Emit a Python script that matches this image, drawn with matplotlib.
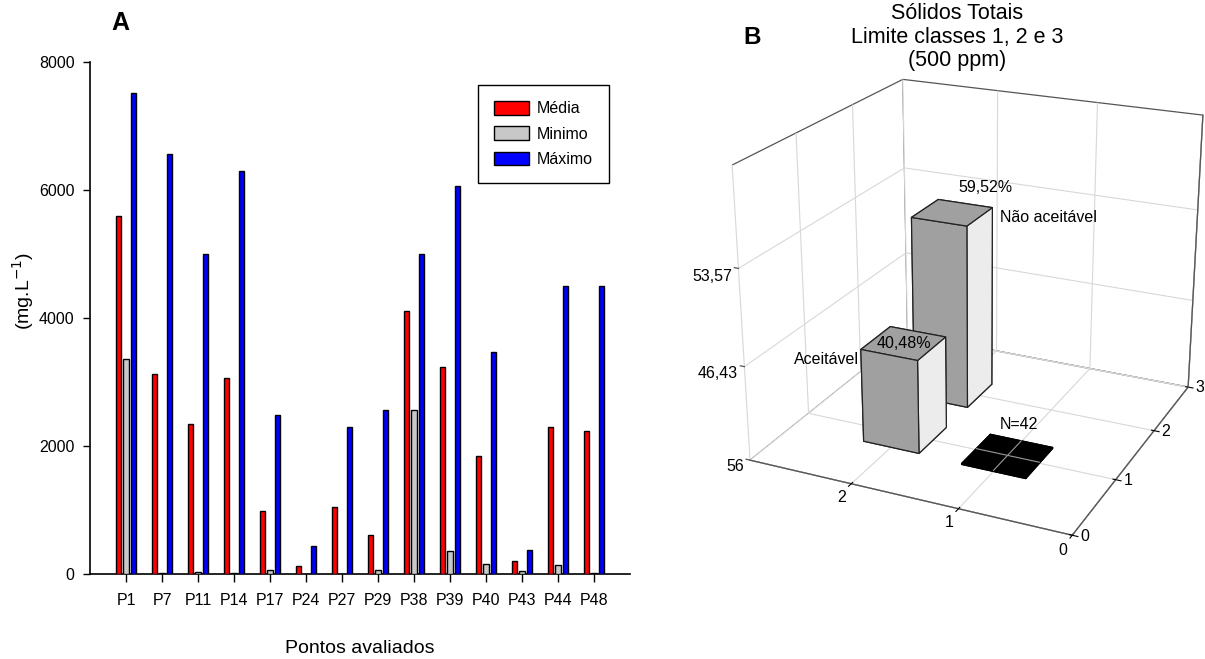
import matplotlib
matplotlib.use("Agg")
import matplotlib.pyplot as plt
import numpy as np

# ---------------- data ----------------
pontos = ["P1", "P7", "P11", "P14", "P17", "P24", "P27", "P29", "P38", "P39",
          "P40", "P43", "P44", "P48"]
media = [5600, 3120, 2350, 3070, 980, 130, 1050, 615, 4110, 3230, 1850, 205, 2300, 2235]
minimo = [3355, 15, 25, 15, 55, 0, 0, 55, 2555, 355, 150, 40, 140, 15]
maximo = [7520, 6570, 5000, 6290, 2490, 440, 2290, 2555, 5005, 6070, 3465, 380, 4505, 4505]
serie_nomes = ["Média", "Minimo", "Máximo"]
serie_cores = ["#ff0000", "#c8c8c8", "#0000ff"]
yticks_a = [0, 2000, 4000, 6000, 8000]

classes = ["Aceitável", "Não aceitável"]
classes_pct = [40.48, 59.52]
classes_x = [2, 2]
classes_y = [1, 2]
pct_labels = ["40,48%", "59,52%"]
n_label = "N=42"
n_x, n_y = 1, 1
z_ticks = [21.44, 40.48, 59.52]
z_ticklabels = ["56", "46,43", "53,57"]
x_ticks_b = [0, 1, 2]
y_ticks_b = [0, 1, 2, 3]
x_max_b = 3  # x axis of panel B runs from 3 (left) to 0 (right)

W, H = 1205, 659
fig = plt.figure(figsize=(W / 100, H / 100), dpi=100)

regular = ["Liberation Sans", "DejaVu Sans"]

# ---------------- panel A ----------------
ax = fig.add_axes([90 / W, 1 - 574 / H, 540 / W, 512 / H])
xpos = np.arange(1, len(pontos) + 1)
bw = 0.14
off = 0.2
for k, (vals, nome, cor) in enumerate(zip([media, minimo, maximo], serie_nomes, serie_cores)):
    ax.bar(xpos + (k - 1) * off, vals, width=bw, color=cor, edgecolor="black",
           linewidth=1.0, label=nome, zorder=3)
ax.set_xlim(0, len(pontos) + 1)
ax.set_ylim(0, 8000)
ax.set_xticks(xpos)
ax.set_xticklabels(pontos, family=regular, fontsize=11.5)
ax.set_yticks(yticks_a)
ax.set_yticklabels([str(v) for v in yticks_a], family=regular, fontsize=11.5)
ax.tick_params(axis="x", direction="out", length=6, width=1, pad=8)
ax.tick_params(axis="y", direction="out", length=5, width=1, pad=6)
for s in ["top", "right"]:
    ax.spines[s].set_visible(False)
for s in ["left", "bottom"]:
    ax.spines[s].set_linewidth(1.2)
ax.set_xlabel("Pontos avaliados", family=regular, fontsize=14)
ax.xaxis.set_label_coords(0.5, -0.128)
ax.set_ylabel("(mg.L$^{-1}$)", family=regular, fontsize=14)
ax.yaxis.set_label_coords(-0.10, 0.553)
leg = ax.legend(loc="upper right", bbox_to_anchor=(609 / W, 1 - 85 / H),
                bbox_transform=fig.transFigure, borderaxespad=0,
                prop={"family": regular, "size": 11.5}, fancybox=False,
                edgecolor="black", framealpha=1, handlelength=2.2,
                handleheight=0.95, handletextpad=0.5, labelspacing=0.62,
                borderpad=1.0)
leg.get_frame().set_linewidth(1.0)
fig.text(120 / W, 1 - 23 / H, "A", family=regular, fontsize=18, weight="bold",
         ha="center", va="center")

# ---------------- panel B ----------------
z_lo = z_ticks[0]
z_hi = z_ticks[0] + 3 * (z_ticks[1] - z_ticks[0])

S0, X0, Y0 = 500.0, 700.0, 80.0
ax3 = fig.add_axes([X0 / W, Y0 / H, S0 / W, S0 / H], projection="3d",
                   proj_type="persp", focal_length=0.75)
ax3.patch.set_alpha(0)
ax3.computed_zorder = False
ax3.set_xlim(0, x_max_b)
ax3.set_ylim(0, 3)
ax3.set_zlim(z_lo, z_hi)


def bx(v):
    # position along the reversed x axis of panel B
    return x_max_b - np.asarray(v, dtype=float)


# --- fit the camera so that the box frame sits where the reference frame is
# (3D anchor -> target pixel, top-left origin)
frame_pts = np.array([
    [0, 0, z_lo], [3, 0, z_lo], [3, 3, z_lo], [0, 3, z_lo],
    [0, 0, z_hi], [0, 3, z_hi], [3, 3, z_hi],
    [1, 0, z_lo], [2, 0, z_lo], [3, 1, z_lo], [3, 2, z_lo],
    [0, 0, z_ticks[1]], [0, 0, z_ticks[2]],
], dtype=float)
frame_pix = np.array([
    [753, 458], [1072, 535], [1188, 386], [905, 337],
    [730, 165], [905, 78], [1204, 115],
    [852, 483], [957, 509], [1117, 479], [1153, 431],
    [745, 368], [737, 270],
], dtype=float)
frame_pix_bl = np.column_stack([frame_pix[:, 0], H - frame_pix[:, 1]])

fig.canvas.draw()
T = ax3.transData


def project(p):
    elev, azim, lf, rx, rz = p
    ax3.view_init(elev=elev, azim=azim)
    ax3.set_proj_type("persp", focal_length=float(np.exp(lf)))
    ax3.set_box_aspect((rx, 1.0, rz))
    M = ax3.get_proj()
    v = M @ np.vstack([frame_pts.T, np.ones(len(frame_pts))])
    xy = np.column_stack([v[0] / v[3], v[1] / v[3]])
    return T.transform(xy)


def fit_err(p):
    P = project(p)
    pm, rm = P.mean(0), frame_pix_bl.mean(0)
    Pc, Rc = P - pm, frame_pix_bl - rm
    s = (Pc * Rc).sum() / (Pc * Pc).sum()
    err = ((Rc - s * Pc) ** 2).sum()
    return err, s, rm - s * pm


lo = np.array([5, -89, np.log(0.25), 0.5, 0.5])
hi = np.array([80, -20, np.log(20), 2.0, 2.0])
best_p, best_e = None, np.inf
for start_f in (0.4, 1.0, 3.0):
    p = np.array([30.0, -64.0, np.log(start_f), 1.15, 1.1])
    e = fit_err(p)[0]
    step = np.array([4.0, 4.0, 0.4, 0.1, 0.1])
    for _ in range(400):
        improved = False
        for i in range(5):
            for sg in (1, -1):
                q = p.copy()
                q[i] = np.clip(q[i] + sg * step[i], lo[i], hi[i])
                eq = fit_err(q)[0]
                if eq < e:
                    p, e, improved = q, eq, True
        if not improved:
            step = step / 2
            if step.max() < 1e-3:
                break
    if e < best_e:
        best_p, best_e = p, e

err, s, t = fit_err(best_p)
project(best_p)
ax3.set_position([(s * X0 + t[0]) / W, (s * Y0 + t[1]) / H, s * S0 / W, s * S0 / H])

bwx, bwy = 0.55, 0.55
face_cols = ["#a0a0a0", "#a0a0a0", "#a0a0a0", "#a0a0a0", "#ececec", "#ececec"]
# draw the back bar first, the front bar on top of it
for zo, (xc, yc, pc) in zip([3, 2], zip(classes_x, classes_y, classes_pct)):
    ax3.bar3d(bx(xc) - bwx / 2, yc - bwy / 2, z_lo, bwx, bwy, pc - z_lo,
              color=face_cols, edgecolor="#222222", linewidth=0.9, shade=False,
              zorder=zo)
sq = 0.3
ax3.bar3d(bx(n_x) - sq, n_y - sq, z_lo, 2 * sq, 2 * sq, 0.2, color="black",
          edgecolor="black", shade=False, zorder=1)
# floor grid lines showing through the black square
ax3.plot([bx(n_x)] * 2, [n_y - sq, n_y + sq], [z_lo + 0.2] * 2, color="#9a9a9a",
         lw=0.8, zorder=1.5)
ax3.plot([bx(n_x) - sq, bx(n_x) + sq], [n_y] * 2, [z_lo + 0.2] * 2, color="#9a9a9a",
         lw=0.8, zorder=1.5)

for axis in (ax3.xaxis, ax3.yaxis, ax3.zaxis):
    axis.set_pane_color((1, 1, 1, 1))
    axis.pane.set_edgecolor("#555555")
    axis.pane.set_linewidth(0.9)
    axis._axinfo["grid"]["color"] = "#d8d8d8"
    axis._axinfo["grid"]["linewidth"] = 0.8
    axis.line.set_color("#555555")
    axis.line.set_linewidth(0.9)

ax3.set_xticks(bx(x_ticks_b))
ax3.set_xticklabels([str(v) for v in x_ticks_b], family=regular, fontsize=11.5,
                    ha="right", va="center")
ax3.set_yticks(y_ticks_b)
ax3.set_yticklabels([str(v) for v in y_ticks_b], family=regular, fontsize=11.5,
                    ha="left", va="bottom")
ax3.set_zticks(z_ticks)
ax3.set_zticklabels(z_ticklabels, family=regular, fontsize=11.5)
ax3.tick_params(axis="x", pad=-1.5)
ax3.tick_params(axis="y", pad=-3.0)

txt_kw = dict(family=regular, fontsize=11.5, zorder=6)
ax3.text(bx(classes_x[1] - 0.24), classes_y[1] + 0.2, classes_pct[1] + 4.6, pct_labels[1],
         ha="center", va="center", **txt_kw)
ax3.text(bx(classes_x[1] - 0.47), classes_y[1], classes_pct[1] + 0.4, classes[1],
         ha="left", va="center", **txt_kw)
ax3.text(bx(classes_x[0]), classes_y[0], classes_pct[0], pct_labels[0],
         ha="center", va="center", **txt_kw)
ax3.text(bx(classes_x[0] + 0.3), classes_y[0] - 0.27, classes_pct[0] - 2.2, classes[0],
         ha="right", va="center", **txt_kw)
ax3.text(bx(n_x + 0.04), n_y + 0.35, z_lo + 3, n_label,
         ha="center", va="center", **txt_kw)

# put the z tick labels on the left vertical edge
best_opt, best_x = None, np.inf
for opt in ("default", "lower", "upper"):
    try:
        ax3.zaxis.set_ticks_position(opt)
        fig.canvas.draw()
        xs_lab = [tl.get_window_extent().x0 for tl in ax3.zaxis.get_ticklabels()
                  if tl.get_text()]
        mx = float(np.mean(xs_lab)) if xs_lab else np.inf
        if mx < best_x:
            best_opt, best_x = opt, mx
    except Exception:
        pass
if best_opt is not None:
    try:
        ax3.zaxis.set_ticks_position(best_opt)
    except Exception:
        pass
if not best_x < 900:
    # fall back: tick marks and labels drawn next to the left vertical edge
    ax3.zaxis.set_ticklabels([])
    ax3.zaxis._axinfo["tick"]["inward_factor"] = 0.0
    ax3.zaxis._axinfo["tick"]["outward_factor"] = 0.0
    for zt, zl in zip(z_ticks, z_ticklabels):
        ax3.plot([0, -0.04], [0, 0], [zt, zt], color="#555555", lw=0.9, zorder=0.5)
        ax3.text(-0.07, 0, zt - 1.7, zl, ha="right", va="center", **txt_kw)

fig.text(957 / W, 1 - 37 / H, "Sólidos Totais\nLimite classes 1, 2 e 3\n(500 ppm)",
         family=regular, fontsize=15.5, ha="center", va="center", linespacing=1.15)
fig.text(752 / W, 1 - 37 / H, "B", family=regular, fontsize=17.5, weight="bold",
         ha="center", va="center")

fig.savefig("out.png", dpi=100)
